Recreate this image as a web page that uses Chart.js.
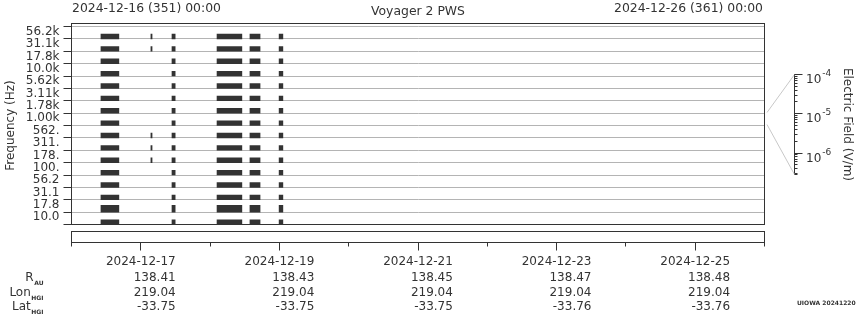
<!DOCTYPE html>
<html><head><meta charset="utf-8">
<script src="https://cdn.jsdelivr.net/npm/chart.js@4.4.1/dist/chart.umd.min.js"></script>
<style>
html,body{margin:0;padding:0;background:#fff;}
#wrap{position:relative;width:860px;height:320px;overflow:hidden;background:#fff;}
canvas{position:absolute;}
</style></head><body>
<div id="wrap">
<canvas id="main" width="860" height="244" style="left:0;top:0"></canvas>
<canvas id="strip" width="860" height="96" style="left:0;top:224px"></canvas>
<canvas id="cbar" width="100" height="140" style="left:760px;top:50px"></canvas>
</div>
<script>
// ---------- data ----------
const plotTitle = 'Voyager 2 PWS';
const topLeftLabel = '2024-12-16 (351) 00:00';
const topRightLabel = '2024-12-26 (361) 00:00';
const yTitle = 'Frequency (Hz)';
const cbTitle = 'Electric Field (V/m)';

// frequency channels, top to bottom
const channels = ['56.2k','31.1k','17.8k','10.0k','5.62k','3.11k','1.78k','1.00k',
                  '562.','311.','178.','100.','56.2','31.1','17.8','10.0'];

// observation bursts, hours after 2024-12-16 00:00
const burstStartH = [10.2, 27.5, 34.8, 50.4, 61.8, 71.9];
const burstEndH   = [16.4, 27.9, 35.9, 59.0, 65.3, 73.2];
// channels (indices into channels) present in each burst
const burstRows = [
  [0,1,2,3,4,5,6,7,8,9,10,11,12,13,14,15],
  [0,1,8,9,10],
  [0,1,2,3,4,5,6,7,8,9,10,11,12,13,14,15],
  [0,1,2,3,4,5,6,7,8,9,10,11,12,13,14,15],
  [0,1,2,3,4,5,6,7,8,9,10,11,12,13,14,15],
  [0,1,2,3,4,5,6,7,8,9,10,11,12,13,14,15]
];

// time axis
const dateTicks = ['2024-12-17','2024-12-19','2024-12-21','2024-12-23','2024-12-25'];
const dateTickHours = [24, 72, 120, 168, 216];
const minorTickHours = [0, 48, 96, 144, 192, 240];

// ephemeris rows
const rAU    = ['138.41','138.43','138.45','138.47','138.48'];
const lonHGI = ['219.04','219.04','219.04','219.04','219.04'];
const latHGI = ['-33.75','-33.75','-33.75','-33.76','-33.76'];
const rowNames = ['R','Lon','Lat'];
const rowSubs  = ['AU','HGI','HGI'];
const footer = 'UIOWA 20241220';

// colour bar axis
const cbMin = 2.85e-7, cbMax = 1e-4;
const cbDecades = [-6, -5, -4];
const cbMantissas = [2,3,4,5,6,7,8,9];

// ---------- style ----------
const INK = '#333333', GRID = '#b4b4b4', CONNECT = '#c8c8c8';
const FONT = "'DejaVu Sans', sans-serif";
Chart.defaults.font.family = FONT;
Chart.defaults.font.size = 12;
Chart.defaults.color = INK;
Chart.defaults.animation = false;

const BAND_PX = 198 / 16;       // pixel height of one channel band
const THICK_ROW = 14;           // channel drawn with taller bars
const barPx = ci => ci === THICK_ROW ? 6.7 : 4.7;

// ---------- main spectrogram ----------
const rowDatasets = channels.map((name, ci) => {
  const t = barPx(ci);
  const yv = ci + 1 - (t / 2) / BAND_PX;
  const data = [];
  burstStartH.forEach((s, b) => {
    if (burstRows[b].includes(ci)) data.push({x: [s, burstEndH[b]], y: yv});
  });
  return {label: name, data, xAxisID: 'x', yAxisID: 'yd', grouped: false,
          barThickness: t, backgroundColor: INK, borderWidth: 0, borderSkipped: false};
});

const framePlugin = {
  id: 'frame',
  afterDraw(chart) {
    const {ctx, chartArea: ca} = chart;
    ctx.save();
    ctx.strokeStyle = INK; ctx.lineWidth = 1;
    ctx.strokeRect(ca.left, ca.top - 3, ca.right - ca.left, ca.bottom - ca.top + 3);
    ctx.fillStyle = INK; ctx.font = '12.4px ' + FONT; ctx.textBaseline = 'alphabetic';
    ctx.textAlign = 'left';  ctx.fillText(topLeftLabel, ca.left + 0.5, 12);
    ctx.textAlign = 'center'; ctx.fillText(plotTitle, (ca.left + ca.right) / 2, 15);
    ctx.textAlign = 'right'; ctx.fillText(topRightLabel, ca.right - 1.5, 12);
    ctx.restore();
  }
};

new Chart(document.getElementById('main'), {
  type: 'bar',
  data: {datasets: rowDatasets},
  options: {
    responsive: false, animation: false, devicePixelRatio: 1, indexAxis: 'y',
    layout: {padding: {left: 0, right: 95.5, top: 26.5, bottom: 19.5}},
    plugins: {legend: {display: false}, tooltip: {enabled: false}},
    scales: {
      x: {type: 'linear', min: 0, max: 240, display: false},
      yd: {type: 'linear', min: 0, max: 16, reverse: true, display: false, offset: false, grid: {offset: false}},
      y: {
        type: 'category', labels: channels, position: 'left', offset: true,
        grid: {offset: true, color: GRID, tickColor: INK, tickLength: 8, lineWidth: 1},
        border: {color: INK},
        ticks: {color: INK, padding: 4, labelOffset: -1, autoSkip: false, font: {size: 12}},
        title: {display: true, text: yTitle, color: INK, font: {size: 12}},
        afterFit(s) { s.width = 71.5; }
      }
    }
  },
  plugins: [framePlugin]
});

// ---------- time strip with ephemeris ----------
const stripPlugin = {
  id: 'strip',
  afterDraw(chart) {
    const {ctx, chartArea: ca} = chart;
    const sx = chart.scales.x;
    ctx.save();
    ctx.strokeStyle = INK; ctx.lineWidth = 1;
    ctx.strokeRect(ca.left, ca.top, ca.right - ca.left, ca.bottom - ca.top);
    ctx.beginPath();
    minorTickHours.forEach(h => {
      const x = Math.round(sx.getPixelForValue(h) - 0.5) + 0.5;
      ctx.moveTo(x, ca.bottom); ctx.lineTo(x, ca.bottom + 4);
    });
    ctx.stroke();
    ctx.fillStyle = INK; ctx.textBaseline = 'alphabetic';
    const rows = [rAU, lonHGI, latHGI];
    const baselines = [56.7, 71.7, 86];
    rows.forEach((vals, r) => {
      vals.forEach((v, i) => {
        ctx.font = '12px ' + FONT;
        const half = ctx.measureText(dateTicks[i]).width / 2;
        ctx.textAlign = 'right';
        ctx.fillText(v, sx.getPixelForValue(dateTickHours[i]) + half, baselines[r]);
      });
      ctx.font = 'bold 6px ' + FONT; ctx.textAlign = 'right';
      const subW = ctx.measureText(rowSubs[r]).width;
      ctx.fillText(rowSubs[r], 43.5, baselines[r] + 3.8);
      ctx.font = '12px ' + FONT;
      ctx.fillText(rowNames[r], 43.5 - subW - 0.5, baselines[r]);
    });
    ctx.font = 'bold 6px ' + FONT; ctx.textAlign = 'left';
    ctx.fillText(footer, 797, 81);
    ctx.restore();
  }
};

const allTickHours = minorTickHours.concat(dateTickHours).sort((a, b) => a - b);
new Chart(document.getElementById('strip'), {
  type: 'scatter',
  data: {datasets: []},
  options: {
    responsive: false, animation: false, devicePixelRatio: 1,
    layout: {padding: {left: 71.5, right: 95.5, top: 7.5, bottom: 0}},
    plugins: {legend: {display: false}, tooltip: {enabled: false}},
    scales: {
      x: {
        type: 'linear', min: 0, max: 240, position: 'bottom',
        afterBuildTicks(s) { s.ticks = allTickHours.map(v => ({value: v})); },
        grid: {drawOnChartArea: false, tickLength: 8,
               tickColor: c => dateTickHours.includes(c.tick && c.tick.value) ? INK : 'rgba(0,0,0,0)'},
        border: {color: INK},
        ticks: {autoSkip: false, maxRotation: 0, padding: 4, color: INK, font: {size: 12},
                callback: v => { const i = dateTickHours.indexOf(v); return i >= 0 ? dateTicks[i] : ''; }},
        afterFit(s) { s.height = 77.5; }
      },
      y: {display: false, min: 0, max: 1}
    }
  },
  plugins: [stripPlugin]
});

// ---------- colour bar axis ----------
const cbTickValues = [cbMin];
cbDecades.forEach(e => {
  cbTickValues.push(Math.pow(10, e));
  if (e < -4) cbMantissas.forEach(m => cbTickValues.push(m * Math.pow(10, e)));
});
[3,4,5,6,7,8,9].forEach(m => cbTickValues.push(m * 1e-7));
cbTickValues.sort((a, b) => a - b);

const CB_TOP = 50;
const cbarPlugin = {
  id: 'cbar',
  afterDraw(chart) {
    const {ctx, chartArea: ca} = chart;
    const s = chart.scales.y;
    ctx.save();
    ctx.lineWidth = 1; ctx.strokeStyle = CONNECT;
    ctx.beginPath();
    ctx.moveTo(ca.left, 112.5 - CB_TOP); ctx.lineTo(s.left, s.top);
    ctx.moveTo(ca.left, 124.5 - CB_TOP); ctx.lineTo(s.left, s.bottom);
    ctx.stroke();
    ctx.strokeStyle = INK; ctx.fillStyle = INK; ctx.textBaseline = 'alphabetic'; ctx.textAlign = 'left';
    cbDecades.forEach(e => {
      const y = Math.round(s.getPixelForValue(Math.pow(10, e)) - 0.5) + 0.5;
      ctx.beginPath(); ctx.moveTo(s.left, y); ctx.lineTo(s.left + 8, y); ctx.stroke();
      ctx.font = '12px ' + FONT;
      const x0 = s.left + 11.5;
      ctx.fillText('10', x0, y + 8);
      const w = ctx.measureText('10').width;
      ctx.font = '9px ' + FONT;
      ctx.fillText(String(e), x0 + w + 1, y + 1.5);
    });
    ctx.restore();
  }
};

new Chart(document.getElementById('cbar'), {
  type: 'scatter',
  data: {datasets: []},
  options: {
    responsive: false, animation: false, devicePixelRatio: 1,
    layout: {padding: {left: 7, right: 1.5, top: 24.5, bottom: 15.5}},
    plugins: {legend: {display: false}, tooltip: {enabled: false}},
    scales: {
      x: {type: 'linear', display: false, min: 0, max: 1},
      y: {
        type: 'logarithmic', position: 'right', min: cbMin, max: cbMax,
        afterBuildTicks(s) { s.ticks = cbTickValues.map(v => ({value: v})); },
        grid: {drawOnChartArea: false, tickLength: 3, tickColor: INK},
        border: {color: INK},
        ticks: {display: false},
        title: {display: true, text: cbTitle, color: INK, font: {size: 12}},
        afterFit(s) { s.width = 64; }
      }
    }
  },
  plugins: [cbarPlugin]
});
</script>
</body></html>
